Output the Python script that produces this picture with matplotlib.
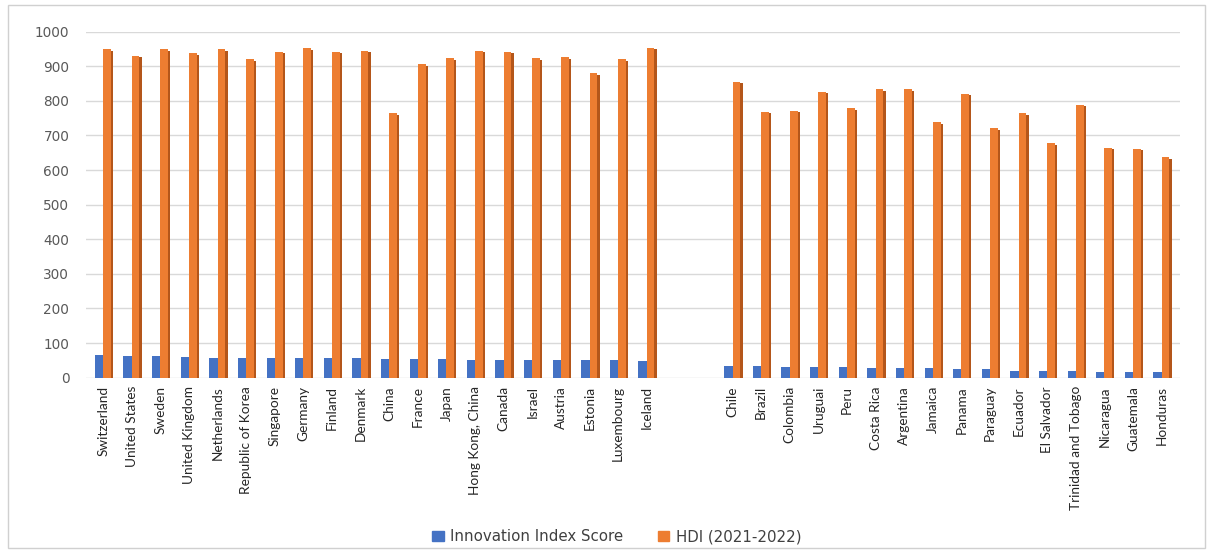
import matplotlib
matplotlib.use("Agg")
import matplotlib.pyplot as plt
from matplotlib.patches import Rectangle
import numpy as np

plt.rcParams["font.family"] = ["Lato", "DejaVu Sans"]

# high-income group
countries_a = ["Switzerland", "United States", "Sweden", "United Kingdom", "Netherlands",
               "Republic of Korea", "Singapore", "Germany", "Finland", "Denmark",
               "China", "France", "Japan", "Hong Kong, China", "Canada", "Israel",
               "Austria", "Estonia", "Luxembourg", "Iceland"]
innov_a = [64.6, 61.8, 61.6, 59.7, 58.0, 57.8, 57.3, 57.2, 56.9, 55.9,
           55.3, 55.0, 53.6, 51.8, 50.8, 50.2, 50.2, 50.2, 49.8, 49.5]
hdi_a = [949, 930, 949, 937, 949, 920, 942, 952, 942, 944,
         764, 906, 923, 944, 942, 923, 926, 880, 920, 954]

# Latin America group
countries_b = ["Chile", "Brazil", "Colombia", "Uruguai", "Peru", "Costa Rica", "Argentina",
               "Jamaica", "Panama", "Paraguay", "Ecuador", "El Salvador",
               "Trinidad and Tobago", "Nicaragua", "Guatemala", "Honduras"]
innov_b = [35, 34, 30, 30, 30, 29, 29, 28, 26, 24, 20, 20, 20, 17, 17, 16]
hdi_b = [855, 769, 771, 827, 779, 834, 834, 738, 820, 721, 764, 677, 788, 665, 662, 637]

GAP = 2  # empty category slots between the two groups

BLUE = "#4472C4"
ORANGE = "#ED7D31"
ORANGE_SIDE = "#B4561A"

x = np.concatenate([np.arange(len(countries_a)),
                    len(countries_a) + GAP + np.arange(len(countries_b))])
labels = countries_a + countries_b
innov = np.array(innov_a + innov_b)
hdi = np.array(hdi_a + hdi_b)

fig = plt.figure(figsize=(12.12, 5.53), dpi=100)
ax = fig.add_axes([86 / 1212, 1 - 377.7 / 553, 1094 / 1212, 346 / 553])

w_b, w_o, w_s = 0.29, 0.27, 0.08
ax.bar(x - w_b / 2, innov, width=w_b, color=BLUE, zorder=3)
ax.bar(x + w_o / 2, hdi, width=w_o, color=ORANGE, zorder=3)
ax.bar(x + w_o + w_s / 2, hdi - 4, width=w_s, color=ORANGE_SIDE, zorder=3)

ax.set_xlim(-0.6, x[-1] + 0.64)
ax.set_ylim(0, 1000)
ax.set_yticks(np.arange(0, 1001, 100))
ax.yaxis.grid(True, color="#D9D9D9", linewidth=1, zorder=0)
for s in ax.spines.values():
    s.set_visible(False)
ax.tick_params(axis="y", length=0, pad=12, labelsize=9.8, labelcolor="#595959")
for t in ax.get_yticklabels():
    t.set_family("DejaVu Sans")
ax.set_xticks(x)
ax.set_xticklabels(labels, rotation=90, fontsize=9.8, color="#262626")
ax.tick_params(axis="x", length=0, pad=6)

h1 = Rectangle((0, 0), 1, 1, color=BLUE)
h2 = Rectangle((0, 0), 1, 1, color=ORANGE)
fig.legend([h1, h2], ["Innovation Index Score", "HDI (2021-2022)"],
           loc="center", bbox_to_anchor=(0.509, 0.029), ncol=2, frameon=False,
           prop={"family": "DejaVu Sans", "size": 10.8},
           handlelength=0.75, handleheight=0.6, columnspacing=2.3,
           handletextpad=0.45, labelcolor="#404040")

fig.patches.append(Rectangle((8 / 1212, 5 / 553), 1197 / 1212, 543 / 553,
                             transform=fig.transFigure, fill=False,
                             edgecolor="#D0D0D0", linewidth=1))

fig.savefig("out.png", dpi=100)
